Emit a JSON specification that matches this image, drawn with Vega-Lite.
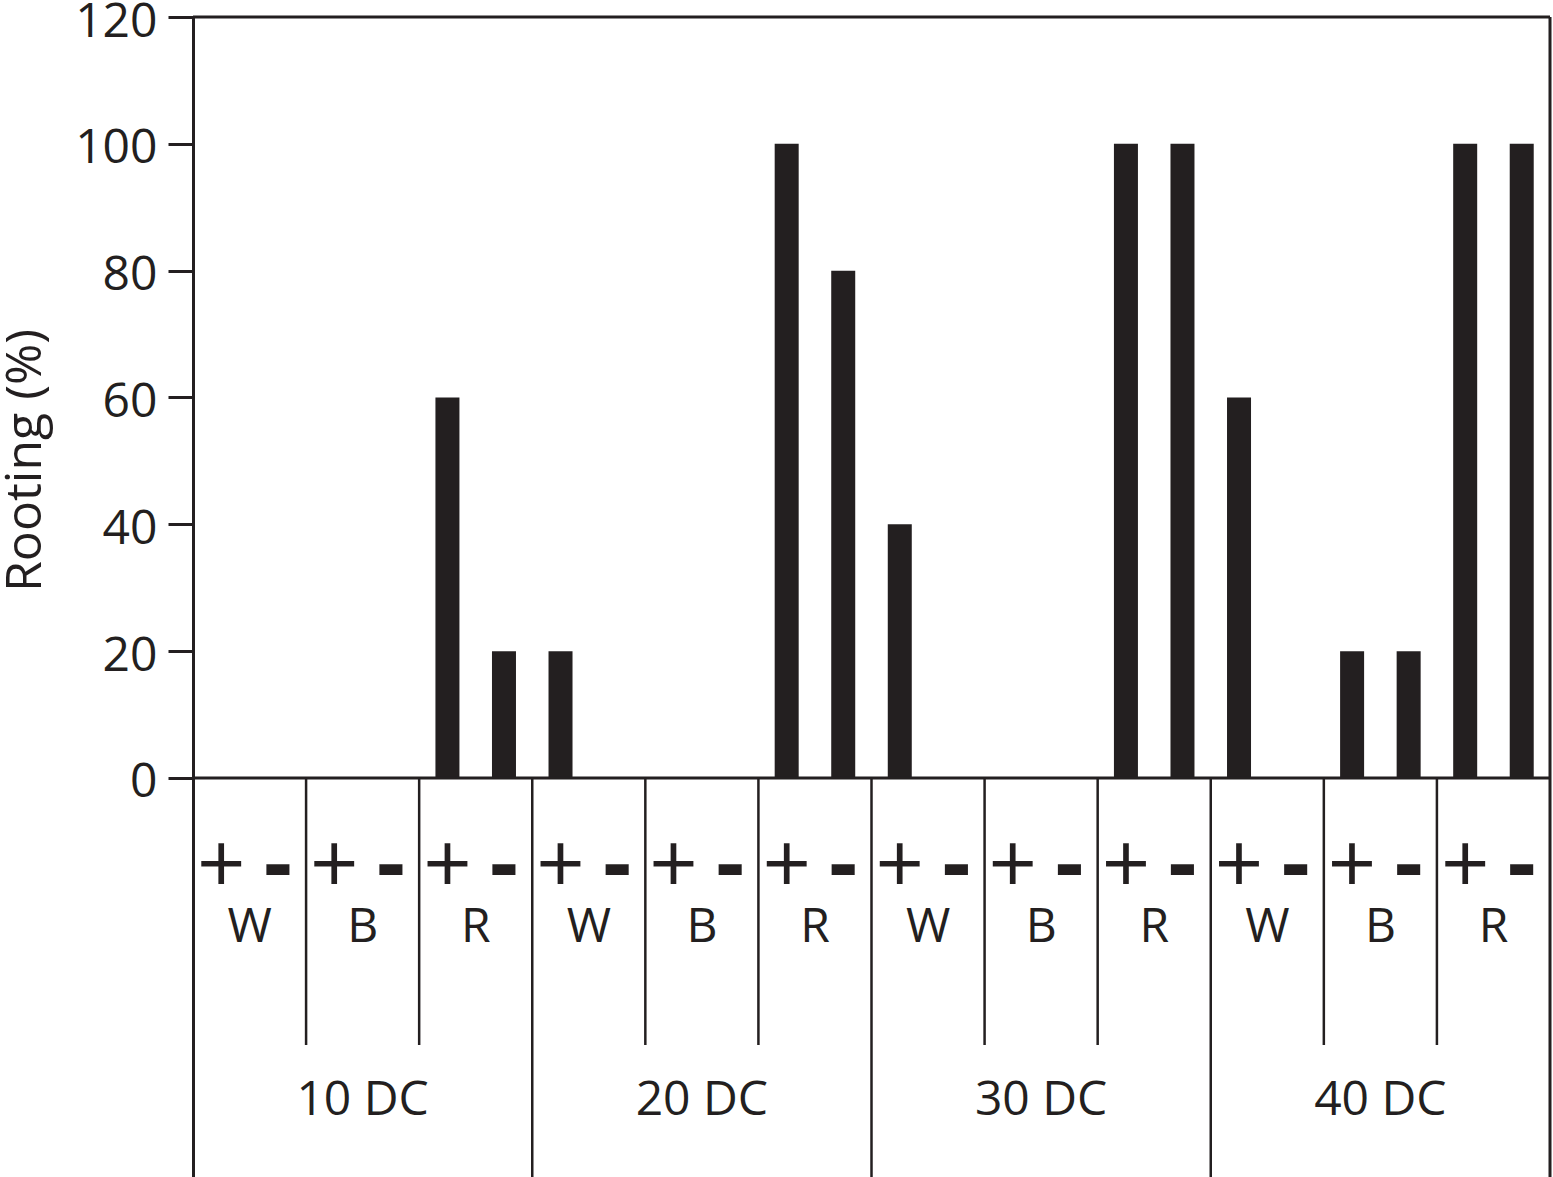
{
  "$schema": "https://vega.github.io/schema/vega-lite/v6.json",
  "width": 1357,
  "height": 1160,
  "autosize": {"type": "none"},
  "padding": {"left": 193, "top": 17, "right": 3, "bottom": 0},
  "background": "white",
  "config": {
    "view": {"stroke": null},
    "font": "Open Sans",
    "text": {"font": "Open Sans", "color": "#231f20"}
  },
  "datasets": {
    "bars": [
      {"dc": "10 DC", "color": "W", "sign": "+", "slot": "10 DC W +", "value": 0},
      {"dc": "10 DC", "color": "W", "sign": "-", "slot": "10 DC W -", "value": 0},
      {"dc": "10 DC", "color": "B", "sign": "+", "slot": "10 DC B +", "value": 0},
      {"dc": "10 DC", "color": "B", "sign": "-", "slot": "10 DC B -", "value": 0},
      {"dc": "10 DC", "color": "R", "sign": "+", "slot": "10 DC R +", "value": 60},
      {"dc": "10 DC", "color": "R", "sign": "-", "slot": "10 DC R -", "value": 20},
      {"dc": "20 DC", "color": "W", "sign": "+", "slot": "20 DC W +", "value": 20},
      {"dc": "20 DC", "color": "W", "sign": "-", "slot": "20 DC W -", "value": 0},
      {"dc": "20 DC", "color": "B", "sign": "+", "slot": "20 DC B +", "value": 0},
      {"dc": "20 DC", "color": "B", "sign": "-", "slot": "20 DC B -", "value": 0},
      {"dc": "20 DC", "color": "R", "sign": "+", "slot": "20 DC R +", "value": 100},
      {"dc": "20 DC", "color": "R", "sign": "-", "slot": "20 DC R -", "value": 80},
      {"dc": "30 DC", "color": "W", "sign": "+", "slot": "30 DC W +", "value": 40},
      {"dc": "30 DC", "color": "W", "sign": "-", "slot": "30 DC W -", "value": 0},
      {"dc": "30 DC", "color": "B", "sign": "+", "slot": "30 DC B +", "value": 0},
      {"dc": "30 DC", "color": "B", "sign": "-", "slot": "30 DC B -", "value": 0},
      {"dc": "30 DC", "color": "R", "sign": "+", "slot": "30 DC R +", "value": 100},
      {"dc": "30 DC", "color": "R", "sign": "-", "slot": "30 DC R -", "value": 100},
      {"dc": "40 DC", "color": "W", "sign": "+", "slot": "40 DC W +", "value": 60},
      {"dc": "40 DC", "color": "W", "sign": "-", "slot": "40 DC W -", "value": 0},
      {"dc": "40 DC", "color": "B", "sign": "+", "slot": "40 DC B +", "value": 20},
      {"dc": "40 DC", "color": "B", "sign": "-", "slot": "40 DC B -", "value": 20},
      {"dc": "40 DC", "color": "R", "sign": "+", "slot": "40 DC R +", "value": 100},
      {"dc": "40 DC", "color": "R", "sign": "-", "slot": "40 DC R -", "value": 100}
    ],
    "groups": [
      {"dc": "10 DC", "color": "W", "grp": "10 DC W"},
      {"dc": "10 DC", "color": "B", "grp": "10 DC B"},
      {"dc": "10 DC", "color": "R", "grp": "10 DC R"},
      {"dc": "20 DC", "color": "W", "grp": "20 DC W"},
      {"dc": "20 DC", "color": "B", "grp": "20 DC B"},
      {"dc": "20 DC", "color": "R", "grp": "20 DC R"},
      {"dc": "30 DC", "color": "W", "grp": "30 DC W"},
      {"dc": "30 DC", "color": "B", "grp": "30 DC B"},
      {"dc": "30 DC", "color": "R", "grp": "30 DC R"},
      {"dc": "40 DC", "color": "W", "grp": "40 DC W"},
      {"dc": "40 DC", "color": "B", "grp": "40 DC B"},
      {"dc": "40 DC", "color": "R", "grp": "40 DC R"}
    ],
    "dcs": [
      {"dc": "10 DC"},
      {"dc": "20 DC"},
      {"dc": "30 DC"},
      {"dc": "40 DC"}
    ]
  },
  "resolve": {"scale": {"x": "independent"}},
  "layer": [
    {
      "data": {"name": "bars"},
      "encoding": {
        "x": {
          "field": "slot",
          "type": "nominal",
          "axis": null,
          "scale": {
            "domain": ["10 DC W +", "10 DC W -", "10 DC B +", "10 DC B -", "10 DC R +", "10 DC R -",
                       "20 DC W +", "20 DC W -", "20 DC B +", "20 DC B -", "20 DC R +", "20 DC R -",
                       "30 DC W +", "30 DC W -", "30 DC B +", "30 DC B -", "30 DC R +", "30 DC R -",
                       "40 DC W +", "40 DC W -", "40 DC B +", "40 DC B -", "40 DC R +", "40 DC R -"],
            "paddingInner": 0.5755,
            "paddingOuter": 0.28775
          }
        }
      },
      "layer": [
        {
          "mark": {"type": "bar", "color": "#231f20"},
          "encoding": {
            "y": {
              "field": "value",
              "type": "quantitative",
              "scale": {"domain": [-62.92, 120], "nice": false, "zero": false},
              "axis": {
                "values": [0, 20, 40, 60, 80, 100, 120],
                "title": "Rooting (%)",
                "grid": false,
                "labelFont": "Open Sans",
                "labelFontSize": 48,
                "labelColor": "#231f20",
                "labelPadding": 11,
                "labelOffset": 5,
                "tickSize": 25,
                "tickWidth": 3,
                "tickColor": "#231f20",
                "domainWidth": 3,
                "domainColor": "#231f20",
                "titleFont": "Open Sans",
                "titleFontSize": 50,
                "titleFontWeight": "normal",
                "titleColor": "#231f20",
                "titleAngle": -90,
                "titleAlign": "center",
                "titleBaseline": "alphabetic",
                "titleX": -153,
                "titleY": 443
              }
            }
          }
        },
        {
          "transform": [{"filter": "datum.sign === '+'"}],
          "mark": {"type": "text", "fontSize": 85, "baseline": "alphabetic", "align": "center", "color": "#231f20"},
          "encoding": {
            "y": {"datum": -18.13, "type": "quantitative"},
            "text": {"field": "sign"}
          }
        },
        {
          "transform": [{"filter": "datum.sign === '-'"}],
          "mark": {"type": "text", "fontSize": 88, "fontWeight": "bold", "baseline": "alphabetic", "align": "center", "color": "#231f20"},
          "encoding": {
            "y": {"datum": -18.13, "type": "quantitative"},
            "text": {"field": "sign"}
          }
        }
      ]
    },
    {
      "data": {"name": "groups"},
      "encoding": {
        "x": {
          "field": "grp",
          "type": "nominal",
          "axis": null,
          "scale": {
            "domain": ["10 DC W", "10 DC B", "10 DC R", "20 DC W", "20 DC B", "20 DC R",
                       "30 DC W", "30 DC B", "30 DC R", "40 DC W", "40 DC B", "40 DC R"],
            "paddingInner": 0,
            "paddingOuter": 0
          }
        }
      },
      "layer": [
        {
          "mark": {"type": "text", "fontSize": 48, "baseline": "alphabetic", "align": "center", "color": "#231f20"},
          "encoding": {
            "y": {"datum": -25.86, "type": "quantitative"},
            "text": {"field": "color"}
          }
        },
        {
          "transform": [{"filter": "datum.color !== 'W'"}],
          "mark": {"type": "rule", "color": "#231f20", "strokeWidth": 2.5},
          "encoding": {
            "x": {"field": "grp", "type": "nominal", "bandPosition": 0},
            "y": {"datum": 0, "type": "quantitative"},
            "y2": {"datum": -42.1}
          }
        }
      ]
    },
    {
      "data": {"name": "dcs"},
      "encoding": {
        "x": {
          "field": "dc",
          "type": "nominal",
          "axis": null,
          "scale": {
            "domain": ["10 DC", "20 DC", "30 DC", "40 DC"],
            "paddingInner": 0,
            "paddingOuter": 0
          }
        }
      },
      "layer": [
        {
          "mark": {"type": "text", "fontSize": 48, "baseline": "alphabetic", "align": "center", "color": "#231f20"},
          "encoding": {
            "y": {"datum": -53.14, "type": "quantitative"},
            "text": {"field": "dc"}
          }
        },
        {
          "transform": [{"filter": "datum.dc !== '10 DC'"}],
          "mark": {"type": "rule", "color": "#231f20", "strokeWidth": 2.5},
          "encoding": {
            "x": {"field": "dc", "type": "nominal", "bandPosition": 0},
            "y": {"datum": 0, "type": "quantitative"},
            "y2": {"datum": -62.92}
          }
        },
        {
          "transform": [{"filter": "datum.dc === '40 DC'"}],
          "mark": {"type": "rule", "color": "#231f20", "strokeWidth": 3},
          "encoding": {
            "x": {"field": "dc", "type": "nominal", "bandPosition": 1}
          }
        }
      ]
    },
    {
      "data": {"values": [{"level": 0}, {"level": 120}]},
      "mark": {"type": "rule", "color": "#231f20", "strokeWidth": 3},
      "encoding": {
        "y": {"field": "level", "type": "quantitative"}
      }
    }
  ]
}
